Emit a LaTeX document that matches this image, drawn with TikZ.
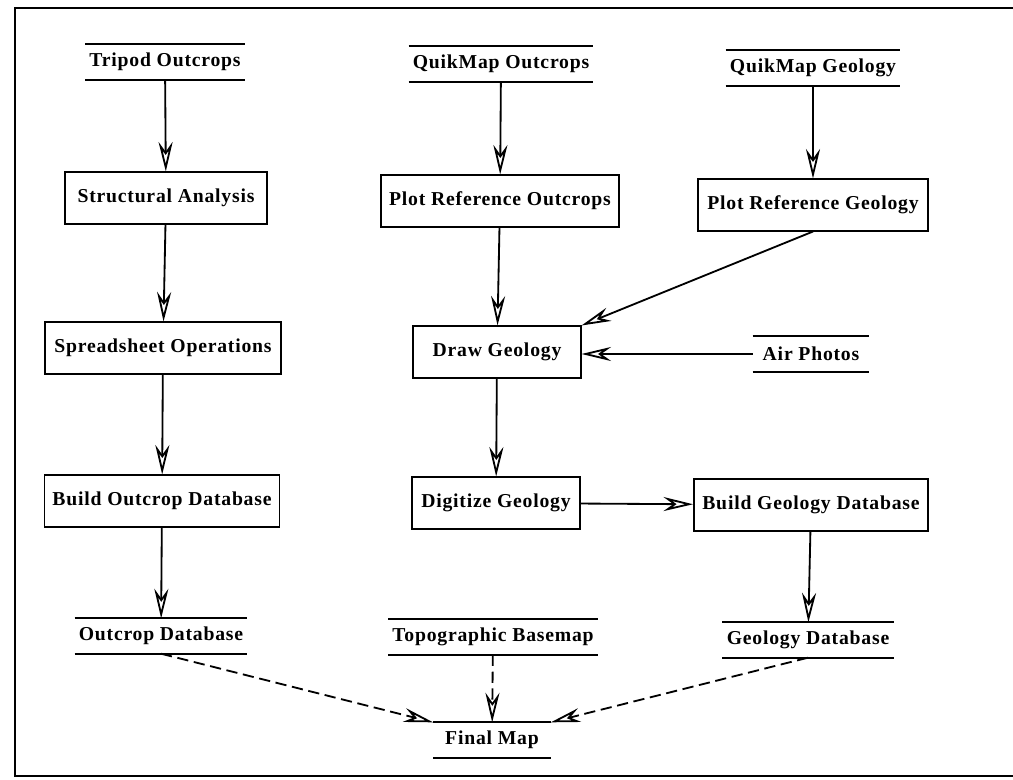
\documentclass[tikz,border=0pt]{standalone}
\usepackage{fontspec}
\setmainfont[LetterSpace=4]{Liberation Serif}
\usetikzlibrary{arrows.meta}
\tikzset{
  proc/.style={draw, line width=1.3pt, minimum height=1.28cm, inner xsep=0.2cm, font=\bfseries\fontsize{14}{16}\selectfont},
  store/.style={minimum height=0.87cm, inner xsep=0.1cm, font=\bfseries\fontsize{14}{16}\selectfont},
  flow/.style={line width=1.3pt, -{Stealth[open, length=21pt, width=10pt, inset=7pt]}},
  later/.style={flow, dash pattern=on 8pt off 4pt}
}
\begin{document}
\begin{tikzpicture}[x=0.025cm, y=-0.025cm]
    \useasboundingbox (0,0) rectangle (1013,780);
    % frame
    \draw[line width=1.4pt] (1013,8) -- (15,8) -- (15,776) -- (1013,776);
    \path   node[store] (trip) at (165, 62) {Tripod Outcrops}
            node[store] (qmo) at (501, 64) {QuikMap Outcrops}
            node[store] (qmg) at (813, 68) {QuikMap Geology}
            node[proc, minimum width=5.03cm] (sa) at (166, 198) {Structural Analysis}
            node[proc, minimum width=5.83cm] (pro) at (500, 201) {Plot Reference Outcrops}
            node[proc, minimum width=5.75cm] (prg) at (813, 205) {Plot Reference Geology}
            node[proc, minimum width=5.88cm] (so) at (163, 348) {Spreadsheet Operations}
            node[proc, minimum width=4.18cm] (dg) at (497, 352) {Draw Geology}
            node[store, minimum width=2.9cm] (air) at (811, 354) {Air Photos}
            node[proc, minimum width=5.83cm] (bod) at (162, 501) {Build Outcrop Database}
            node[proc, minimum width=4.18cm] (dig) at (496, 503) {Digitize Geology}
            node[proc, minimum width=5.85cm] (bgd) at (811, 505) {Build Geology Database}
            node[store] (od) at (161, 636) {Outcrop Database}
            node[store] (topo) at (493, 637) {Topographic Basemap}
            node[store] (gd) at (808, 640) {Geology Database}
            node[store, minimum width=2.93cm] (fm) at (492, 740) {Final Map};
    % data store lines
    \foreach \s in {trip, qmo, qmg, air, od, topo, gd, fm}
        \draw[line width=1.3pt] (\s.north west) -- (\s.north east) (\s.south west) -- (\s.south east);
    \draw[flow] (trip) -- (sa);
    \draw[flow] (sa) -- (so);
    \draw[flow] (so) -- (bod);
    \draw[flow] (bod) -- (od);
    \draw[flow] (qmo) -- (pro);
    \draw[flow] (pro) -- (dg);
    \draw[flow] (dg) -- (dig);
    \draw[flow] (qmg) -- (prg);
    \draw[flow] (prg.south) -- (dg.north east);
    \draw[flow] (air.west) -- (dg.east |- air.west);
    \draw[flow] (dig) -- (bgd);
    \draw[flow] (bgd) -- (gd);
    \draw[later] (od.south) -- (fm.north west);
    \draw[later] (topo) -- (fm);
    \draw[later] (gd.south) -- (fm.north east);
\end{tikzpicture}
\end{document}
